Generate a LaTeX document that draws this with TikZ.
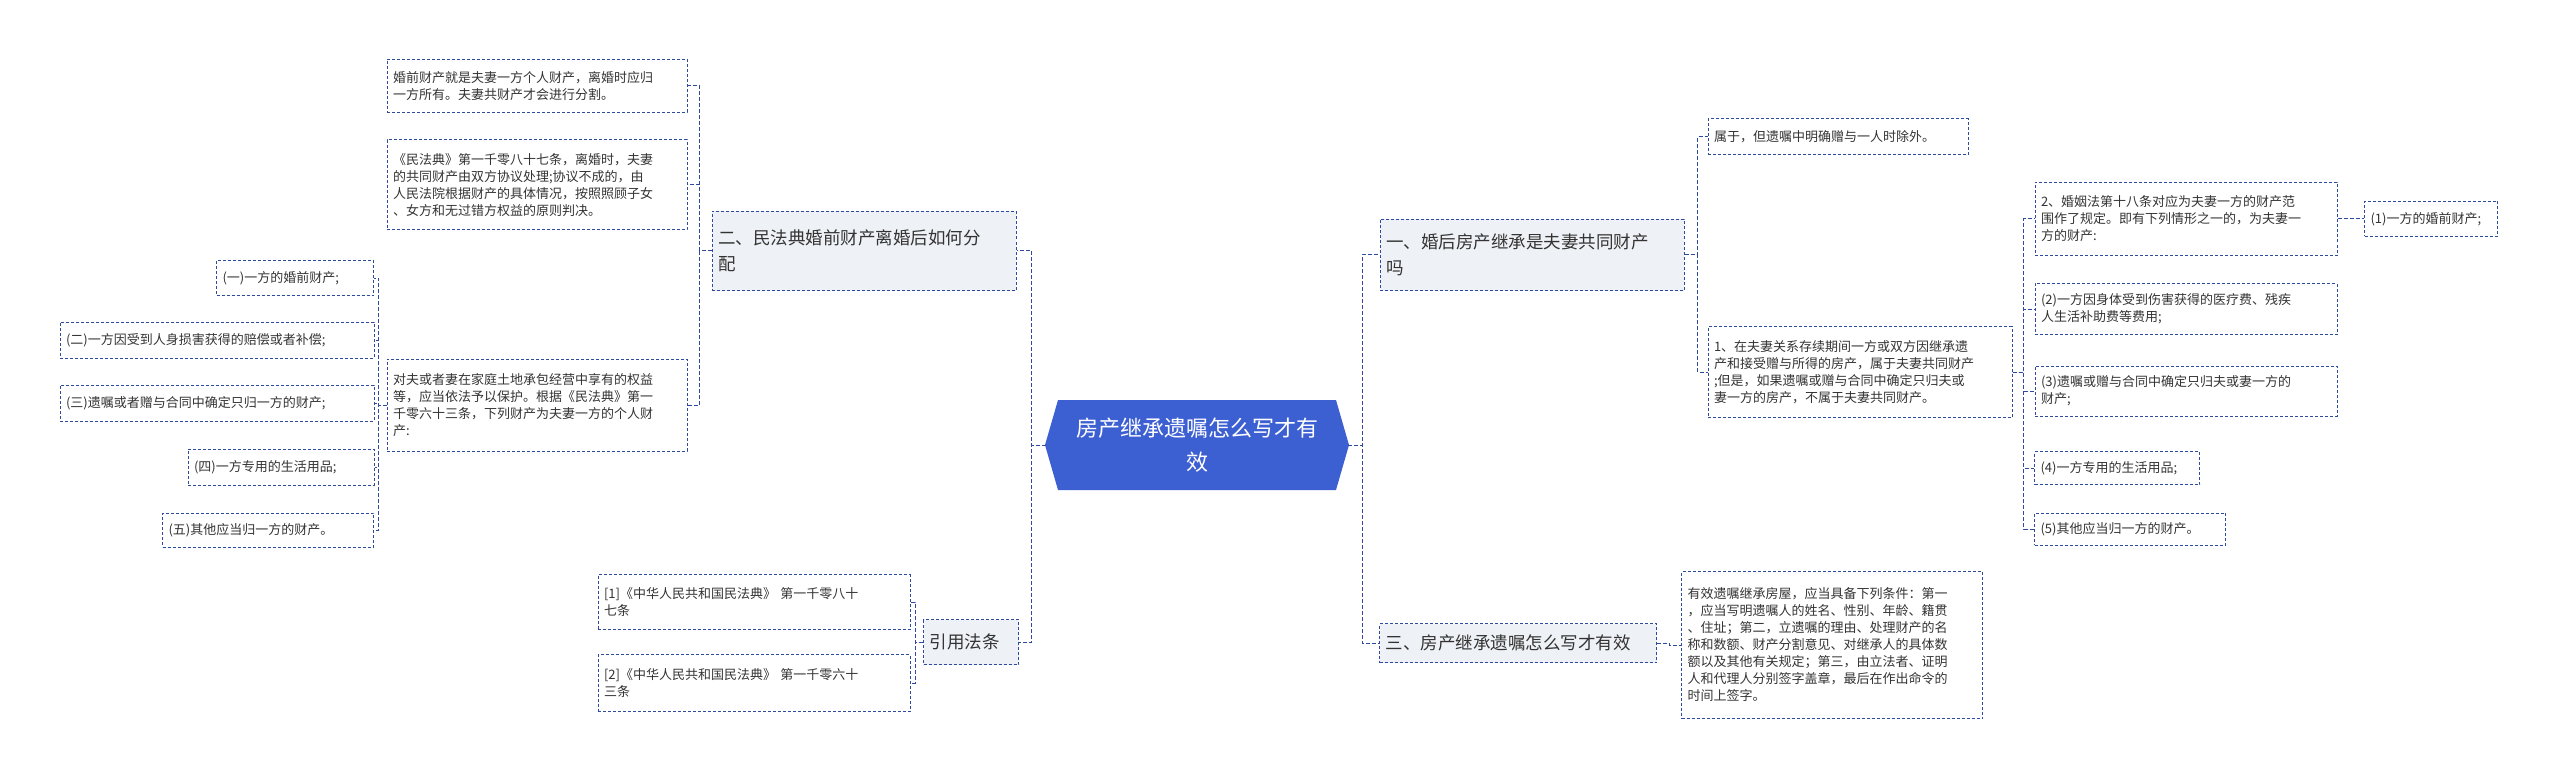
\documentclass[tikz,border=0pt]{standalone}
\usepackage{fontspec}
\setmainfont{Noto Sans CJK SC}
\definecolor{lc}{HTML}{2E4A9E}
\definecolor{bf}{HTML}{EEF1F5}
\definecolor{cf}{HTML}{3C5FD2}
\tikzset{
 leaf/.style={draw=lc,dashed,line width=1pt,dash pattern=on 3pt off 2pt,inner sep=6pt,align=left,font=\fontsize{13}{17}\selectfont,text=black!80},
 branch/.style={leaf,fill=bf,font=\fontsize{17.5}{26}\selectfont},
 conn/.style={draw=lc,line width=1pt,dash pattern=on 4pt off 2pt}
}
\newcommand{\bx}[6]{\node[#1,minimum width=#4pt,minimum height=#5pt,text width=#4pt-12pt] (#2) at #3 {#6};}
\begin{document}
\begin{tikzpicture}[x=1pt,y=-1pt]
\useasboundingbox (0,0) rectangle (2560,778);
% central
\node[minimum width=304pt,minimum height=90pt] (c) at (1197,445) {};
\fill[cf] (1058,400) -- (1336,400) -- (1349,445) -- (1336,490) -- (1058,490) -- (1045,445) -- cycle;
\node[text=white,align=center,font=\fontsize{22}{34}\selectfont] at (1197,445) {房产继承遗嘱怎么写才有\\效};
% left
\bx{branch}{b2}{(864,251)}{304}{79}{二、民法典婚前财产离婚后如何分\\配}
\bx{branch}{yy}{(971,642)}{95}{45}{引用法条}
\bx{leaf}{A}{(537,86)}{300}{53}{婚前财产就是夫妻一方个人财产，离婚时应归\\一方所有。夫妻共财产才会进行分割。}
\bx{leaf}{B}{(537,185)}{300}{90}{《民法典》第一千零八十七条，离婚时，夫妻\\的共同财产由双方协议处理;协议不成的，由\\人民法院根据财产的具体情况，按照照顾子女\\、女方和无过错方权益的原则判决。}
\bx{leaf}{C}{(537,405)}{300}{92}{对夫或者妻在家庭土地承包经营中享有的权益\\等，应当依法予以保护。根据《民法典》第一\\千零六十三条，下列财产为夫妻一方的个人财\\产:}
\bx{leaf}{L1}{(295,278)}{157}{35}{(一)一方的婚前财产;}
\bx{leaf}{L2}{(217,340)}{314}{36}{(二)一方因受到人身损害获得的赔偿或者补偿;}
\bx{leaf}{L3}{(217,403)}{314}{36}{(三)遗嘱或者赠与合同中确定只归一方的财产;}
\bx{leaf}{L4}{(281,467)}{186}{36}{(四)一方专用的生活用品;}
\bx{leaf}{L5}{(268,530)}{211}{34}{(五)其他应当归一方的财产。}
\bx{leaf}{Y1}{(754,602)}{312}{55}{[1]《中华人民共和国民法典》 第一千零八十\\七条}
\bx{leaf}{Y2}{(754,683)}{312}{57}{[2]《中华人民共和国民法典》 第一千零六十\\三条}
% right
\bx{branch}{b1}{(1532,255)}{304}{71}{一、婚后房产继承是夫妻共同财产\\吗}
\bx{branch}{b3}{(1518,643)}{277}{39}{三、房产继承遗嘱怎么写才有效}
\bx{leaf}{S}{(1838,137)}{260}{36}{属于，但遗嘱中明确赠与一人时除外。}
\bx{leaf}{R1}{(1860,372)}{304}{91}{1、在夫妻关系存续期间一方或双方因继承遗\\产和接受赠与所得的房产，属于夫妻共同财产\\;但是，如果遗嘱或赠与合同中确定只归夫或\\妻一方的房产，不属于夫妻共同财产。}
\bx{leaf}{R2}{(2186,219)}{302}{73}{2、婚姻法第十八条对应为夫妻一方的财产范\\围作了规定。即有下列情形之一的，为夫妻一\\方的财产:}
\bx{leaf}{P1}{(2431,219)}{133}{35}{(1)一方的婚前财产;}
\bx{leaf}{P2}{(2186,309)}{302}{51}{(2)一方因身体受到伤害获得的医疗费、残疾\\人生活补助费等费用;}
\bx{leaf}{P3}{(2186,391)}{302}{50}{(3)遗嘱或赠与合同中确定只归夫或妻一方的\\财产;}
\bx{leaf}{P4}{(2117,468)}{165}{33}{(4)一方专用的生活用品;}
\bx{leaf}{P5}{(2130,529)}{191}{32}{(5)其他应当归一方的财产。}
\bx{leaf}{E}{(1832,645)}{301}{147}{有效遗嘱继承房屋，应当具备下列条件：第一\\，应当写明遗嘱人的姓名、性别、年龄、籍贯\\、住址；第二，立遗嘱的理由、处理财产的名\\称和数额、财产分割意见、对继承人的具体数\\额以及其他有关规定；第三，由立法者、证明\\人和代理人分别签字盖章，最后在作出命令的\\时间上签字。}
% connectors
\foreach \t in {b2,yy} \draw[conn] ([xshift=1pt]c.west) -- ++(-14,0) |- (\t.east);
\foreach \t in {b1,b3} \draw[conn] ([xshift=-1pt]c.east) -- ++(14,0) |- (\t.west);
\foreach \t in {A,B,C} \draw[conn] (b2.west) -- ++(-12,0) |- (\t.east);
\foreach \t in {L1,L2,L3,L4,L5} \draw[conn] (C.west) -- ++(-8,0) |- (\t.east);
\foreach \t in {Y1,Y2} \draw[conn] (yy.west) -- ++(-8,0) |- (\t.east);
\foreach \t in {S,R1} \draw[conn] (b1.east) -- ++(13,0) |- (\t.west);
\foreach \t in {R2,P2,P3,P4,P5} \draw[conn] (R1.east) -- ++(11,0) |- (\t.west);
\draw[conn] (R2.east) -- (P1.west);
\draw[conn] (b3.east) -- ++(12,0) |- (E.west);
\end{tikzpicture}
\end{document}
